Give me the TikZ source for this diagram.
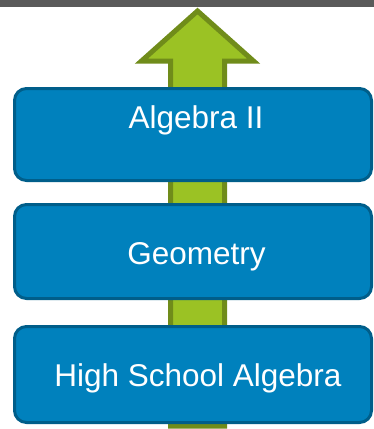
\documentclass[tikz,border=0pt]{standalone}
\usepackage{fontspec}
\setmainfont{Liberation Sans}
\usetikzlibrary{positioning}
\definecolor{stageblue}{RGB}{0, 129, 189}
\definecolor{stageedge}{RGB}{0, 94, 138}
\definecolor{arrowgreen}{RGB}{155, 194, 36}
\definecolor{arrowedge}{RGB}{112, 140, 26}
\definecolor{bargray}{RGB}{90, 90, 90}
\tikzset{
  stagebox/.style={
    draw=stageedge, line width=3pt, fill=stageblue,
    rounded corners=12pt,
    minimum width=357pt,
    inner sep=0pt
  },
  stagetext/.style={
    font=\fontsize{31.5}{36}\selectfont,
    text=white, inner sep=0pt, anchor=base
  },
  uparrow/.style={draw=arrowedge, line width=5pt, fill=arrowgreen, line join=miter}
}

\begin{document}
\begin{tikzpicture}[x=1pt, y=-1pt]
\useasboundingbox (0,0) rectangle (374,429);

% Pfeil hinter den Kaesten
\draw[uparrow] (197.5,11) -- (253.5,61) -- (224.5,61) -- (224.5,426)
  -- (170.5,426) -- (170.5,61) -- (141.5,61) -- cycle;

% Leiste oben
\fill[bargray] (0,0) rectangle (374,7);

% Kaesten
\node[stagebox, minimum height=92pt] (algtwo) at (193,134.5) {};
\node[stagetext] (algtwolbl) at (196,128.5) {Algebra II};

\node[stagebox, minimum height=94pt] (geom) at (193,251.5) {};
\node[stagetext] (geomlbl) at (196.5,264) {Geometry};

\node[stagebox, minimum height=96pt] (hsalg) at (193,374.5) {};
\node[stagetext] (hsalglbl) at (198,386) {High School Algebra};

\end{tikzpicture}
\end{document}
